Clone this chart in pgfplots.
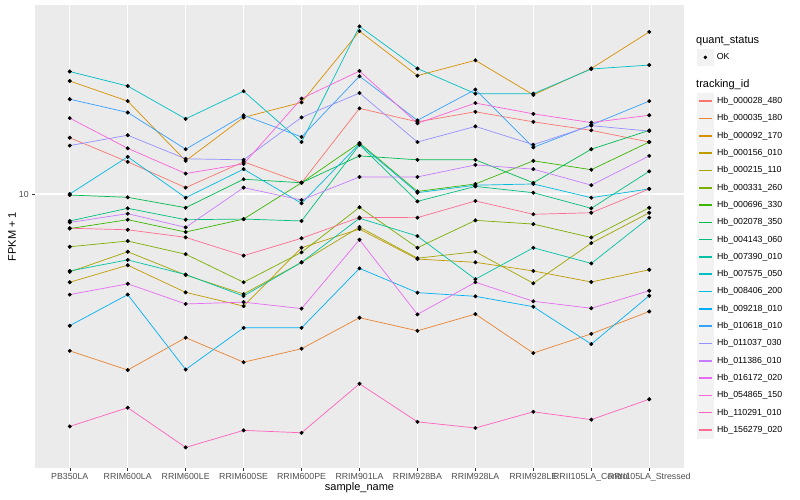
\documentclass[border=0pt]{standalone}
\usepackage{fontspec}
\setmainfont{Liberation Sans}
\usepackage{pgfplots}
\usepackage{pgfplotstable}
\pgfplotsset{compat=1.18}

% ggplot hue palette, 20 levels
\definecolor{c1}{HTML}{F8766D}
\definecolor{c2}{HTML}{EA8331}
\definecolor{c3}{HTML}{D89000}
\definecolor{c4}{HTML}{C09B00}
\definecolor{c5}{HTML}{A3A500}
\definecolor{c6}{HTML}{7CAE00}
\definecolor{c7}{HTML}{39B600}
\definecolor{c8}{HTML}{00BB4E}
\definecolor{c9}{HTML}{00BF7D}
\definecolor{c10}{HTML}{00C1A3}
\definecolor{c11}{HTML}{00BFC4}
\definecolor{c12}{HTML}{00BAE0}
\definecolor{c13}{HTML}{00B0F6}
\definecolor{c14}{HTML}{35A2FF}
\definecolor{c15}{HTML}{9590FF}
\definecolor{c16}{HTML}{C77CFF}
\definecolor{c17}{HTML}{E76BF3}
\definecolor{c18}{HTML}{FA62DB}
\definecolor{c19}{HTML}{FF62BC}
\definecolor{c20}{HTML}{FF6C91}
\definecolor{panel}{HTML}{EBEBEB}
\definecolor{keybg}{HTML}{F2F2F2}
\definecolor{gray30}{HTML}{4D4D4D}
\definecolor{gray20}{HTML}{333333}

% FPKM + 1 per sample (rows) and gene (columns s1..s20, legend order)
\pgfplotstableread{
x  s1   s2   s3   s4   s5   s6   s7    s8   s9   s10  s11  s12  s13  s14  s15  s16  s17  s18  s19  s20
0  15.4 3.00 23.8 5.08 5.50 6.67 7.67  9.92 8.13 5.54 25.6 10.0 3.64 20.7 14.5 8.04 4.62 17.9 1.68 7.69
1  12.8 2.59 20.4 5.79 6.42 6.97 8.21  9.75 8.96 6.03 22.9 13.3 4.62 18.7 15.7 8.60 5.02 14.2 1.94 7.60
2  10.5 3.32 12.9 4.70 5.37 6.30 7.47  9.00 8.21 5.39 17.8 9.72 2.60 14.1 13.1 7.74 4.30 11.7 1.43 7.17
3  12.8 2.75 18.0 4.23 4.64 5.08 8.25  11.2 8.25 4.57 22.0 12.1 3.58 18.3 13.0 10.5 4.36 12.6 1.63 6.23
4  10.9 3.05 20.2 6.62 5.92 6.39 10.9  10.9 8.13 5.92 14.9 9.31 3.58 15.5 18.0 9.55 4.15 20.8 1.60 7.12
5  19.3 3.87 34.9 7.64 7.76 9.03 14.8  13.4 14.6 8.30 36.2 14.7 5.65 24.7 21.7 11.4 7.04 25.7 2.33 8.36
6  17.4 3.50 24.8 6.07 6.11 6.62 10.2  13.0 9.45 7.24 26.2 10.1 4.69 17.6 14.9 11.4 3.97 17.2 1.74 8.34
7  18.8 3.98 27.9 5.92 6.42 8.17 10.8  13.0 10.6 5.20 21.6 10.7 4.56 22.3 16.8 12.5 5.08 20.1 1.66 9.48
8  17.4 2.95 21.4 5.54 5.04 7.94 12.9  10.9 10.1 6.62 21.6 10.8 4.21 14.3 14.6 12.1 4.39 18.5 1.88 8.56
9  16.3 3.42 26.2 5.09 6.86 7.16 12.05 14.1 8.96 5.87 26.1 9.72 3.16 17.0 16.9 10.7 4.16 17.3 1.77 8.66
10 14.9 4.06 34.7 5.59 8.66 9.00 14.9  16.3 11.9 8.34 26.9 10.4 4.58 20.4 16.2 13.4 4.76 18.3 2.07 10.4
}\data

\begin{document}
\begin{tikzpicture}
\useasboundingbox (0,0) rectangle (800pt,500pt);
\begin{axis}[
  at={(35pt,32pt)}, anchor=south west,
  scale only axis, width=649pt, height=463pt,
  ymode=log,
  xmin=-0.6, xmax=10.6,
  ymin=1.221, ymax=42.66,
  axis background/.style={fill=panel},
  axis x line*=bottom, axis y line*=left,
  axis line style={draw=none},
  tick align=outside, major tick length=2.75pt,
  tick style={gray20, line width=0.5pt},
  minor tick num=0,
  xtick={0,...,10},
  xticklabels={PB350LA,RRIM600LA,RRIM600LE,RRIM600SE,RRIM600PE,RRIM901LA,RRIM928BA,RRIM928LA,RRIM928LE,RRII105LA\_Control,RRII105LA\_Stressed},
  ytick={10}, yticklabels={10},
  yminorticks=false,
  grid=major,
  major grid style={white, line width=1.1pt},
  ticklabel style={font=\fontsize{8.8}{10}\selectfont, text=gray30},
  /pgf/number format/assume math mode=true,
  xticklabel style={yshift=1pt},
  xlabel={sample\_name}, ylabel={FPKM + 1},
  label style={font=\fontsize{11}{13}\selectfont},
  xlabel style={at={(0.5,-0.0432)}, anchor=center},
  ylabel style={at={(-0.0354,0.5)}, anchor=center},
  legend entries={Hb\_000028\_480,Hb\_000035\_180,Hb\_000092\_170,Hb\_000156\_010,Hb\_000215\_110,Hb\_000331\_260,Hb\_000696\_330,Hb\_002078\_350,Hb\_004143\_060,Hb\_007390\_010,Hb\_007575\_050,Hb\_008406\_200,Hb\_009218\_010,Hb\_010618\_010,Hb\_011037\_030,Hb\_011386\_010,Hb\_016172\_020,Hb\_054865\_150,Hb\_110291\_010,Hb\_156279\_020},
  legend cell align=left,
  legend image code/.code={
    \fill[keybg] (0pt,-8.3pt) rectangle (16.5pt,8.3pt);
    \draw[#1, line width=1.6pt] (1.8pt,0pt) -- (14.7pt,0pt);
  },
  legend style={at={(1.0196,0.8112)}, anchor=north west, draw=none, fill=none,
    inner sep=0pt, row sep=0pt, font=\fontsize{8.8}{10}\selectfont,
    nodes={inner xsep=3pt, inner ysep=0pt},
    /tikz/every even column/.append style={column sep=0pt}},
]
\pgfplotsinvokeforeach{1,...,20}{
  \addplot[c#1, line width=0.7pt, mark=none] table[x=x, y=s#1]{\data};
}
\pgfplotsinvokeforeach{1,...,20}{
  \addplot[only marks, mark=*, mark size=1.8pt, black, forget plot] table[x=x, y=s#1]{\data};
}
\end{axis}
\begin{axis}[
  at={(35pt,32pt)}, anchor=south west,
  scale only axis, width=649pt, height=463pt,
  hide axis, xmin=0, xmax=1, ymin=0, ymax=1,
  legend cell align=left,
  legend image code/.code={
    \fill[keybg] (0pt,-8.3pt) rectangle (16.5pt,8.3pt);
    \fill[black] (8.25pt,0pt) circle (1.6pt);
  },
  legend style={at={(1.0196,0.9056)}, anchor=north west, draw=none, fill=none,
    inner sep=0pt, font=\fontsize{8.8}{10}\selectfont,
    nodes={inner xsep=3pt, inner ysep=0pt}},
]
\addlegendimage{black}
\addlegendentry{OK}
\end{axis}
\node[anchor=west, inner sep=0pt, font=\fontsize{11}{13}\selectfont] at (696pt,459.3pt) {quant\_status};
\node[anchor=west, inner sep=0pt, font=\fontsize{11}{13}\selectfont] at (696pt,415.7pt) {tracking\_id};
\end{tikzpicture}
\end{document}
